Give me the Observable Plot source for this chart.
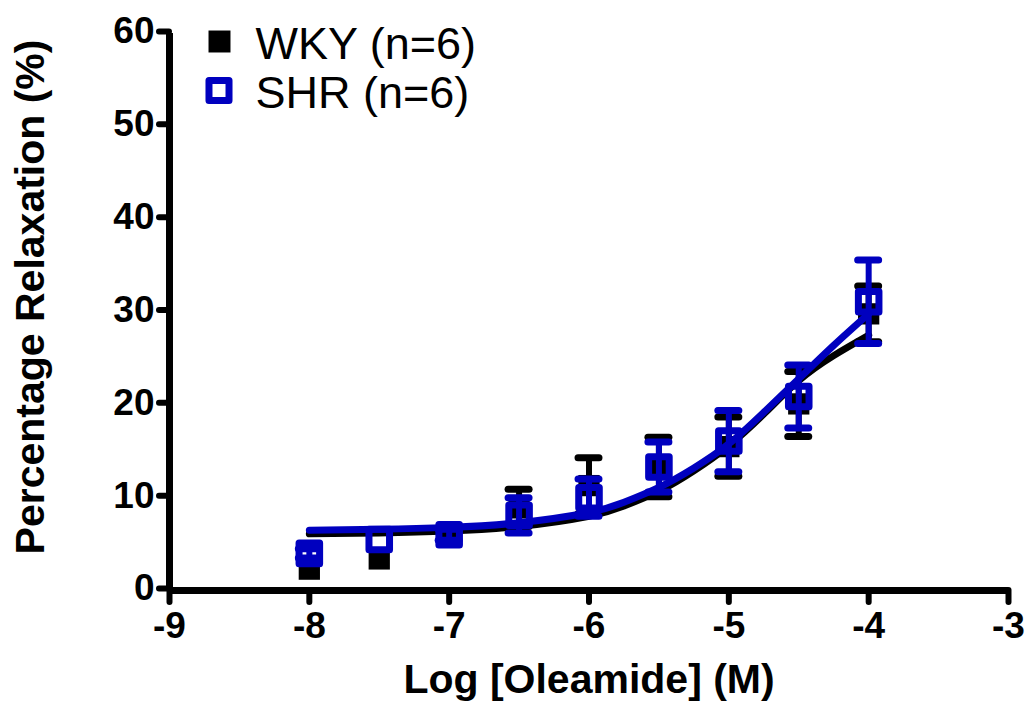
<!DOCTYPE html>
<html>
<head>
<meta charset="utf-8">
<script src="https://cdn.jsdelivr.net/npm/d3@7"></script>
<script src="https://cdn.jsdelivr.net/npm/@observablehq/plot@0.6"></script>
<style>
  html, body { margin: 0; padding: 0; background: #fff; }
  #chart svg { display: block; }
</style>
</head>
<body>
<div id="chart"></div>
<script>
// ---- data ----
const logConc = [-8, -7.5, -7, -6.5, -6, -5.5, -5, -4.5, -4];
const wkyMean = [2.3, 3.4, 5.8, 8.9, 11.3, 13.3, 15.5, 20.1, 29.8];
const wkySem  = [0, 0, 0, 2.0, 3.0, 3.2, 3.2, 3.5, 3.0];
const shrMean = [4.0, 5.5, 6.0, 8.1, 10.0, 13.3, 16.1, 20.9, 31.1];
const shrSem  = [0.5, 0, 0.6, 1.9, 2.0, 2.7, 3.3, 3.4, 4.5];

// fitted curves
const fitX     = [-8, -7.5, -7, -6.5, -6, -5.75, -5.5, -5.25, -5, -4.75, -4.5, -4.25, -4];
const fitShr   = [6.5, 6.6, 6.8, 7.3, 8.4, 9.5, 11.1, 13.2, 15.8, 19.2, 22.8, 26.4, 29.8];
const fitWky   = [6.1, 6.2, 6.4, 6.9, 8.0, 9.1, 10.7, 12.9, 15.6, 19.0, 22.6, 25.3, 27.5];

const xTicks = [-9, -8, -7, -6, -5, -4, -3];
const yTicks = [0, 10, 20, 30, 40, 50, 60];
const legendLabels = ["WKY (n=6)", "SHR (n=6)"];
const xTitle = "Log [Oleamide] (M)";
const yTitle = "Percentage Relaxation (%)";

// ---- tables ----
const wky = logConc.map((x, i) => ({x, y: wkyMean[i], sem: wkySem[i]}));
const shr = logConc.map((x, i) => ({x, y: shrMean[i], sem: shrSem[i]}));
const wkyFit = fitX.map((x, i) => ({x, y: fitWky[i]}));
const shrFit = fitX.map((x, i) => ({x, y: fitShr[i]}));

const BLUE = "#0000bf";
const capHalf = 0.075; // half cap width in x units (~10 px)
const errMarks = (data, color) => {
  const d2 = data.filter(d => d.sem > 0);
  return [
    Plot.ruleX(d2, {x: "x", y1: d => d.y - d.sem, y2: d => d.y + d.sem, stroke: color, strokeWidth: 6}),
    Plot.ruleY(d2, {y: d => d.y + d.sem, x1: d => d.x - capHalf, x2: d => d.x + capHalf, stroke: color, strokeWidth: 7, strokeLinecap: "round"}),
    Plot.ruleY(d2, {y: d => d.y - d.sem, x1: d => d.x - capHalf, x2: d => d.x + capHalf, stroke: color, strokeWidth: 7, strokeLinecap: "round"})
  ];
};

const font = "'Liberation Sans', Arial, Helvetica, sans-serif";

const chart = Plot.plot({
  width: 1028,
  height: 702,
  marginLeft: 169,
  marginRight: 20,
  marginTop: 33,
  marginBottom: 112,
  style: {fontFamily: font, background: "#fff", color: "#000", overflow: "visible"},
  x: {domain: [-9, -3]},
  y: {domain: [0, 60]},
  marks: [
    Plot.axisX(xTicks, {tickSize: 12, tickPadding: 9, strokeWidth: 6, strokeLinecap: "round", fontSize: 37, fontWeight: "bold", tickFormat: d => `${d}`, label: null}),
    Plot.axisY(yTicks, {tickSize: 10, tickPadding: 5, strokeWidth: 6, strokeLinecap: "round", fontSize: 37, fontWeight: "bold", tickFormat: d => `${d}`, dy: -2, label: null}),
    Plot.ruleY([0], {strokeWidth: 7}),
    Plot.ruleX([-9], {strokeWidth: 7}),
    ...errMarks(wky, "#000"),
    Plot.line(wkyFit, {x: "x", y: "y", curve: "natural", stroke: "#000", strokeWidth: 7}),
    Plot.dot(wky, {x: "x", y: "y", symbol: "square", r: 12, fill: "#000", stroke: "none"}),
    ...errMarks(shr, BLUE),
    Plot.line(shrFit, {x: "x", y: "y", curve: "natural", stroke: BLUE, strokeWidth: 7}),
    Plot.dot(shr, {x: "x", y: "y", symbol: "square", r: 11.6, fill: "none", stroke: BLUE, strokeWidth: 7, strokeLinejoin: "round"}),
    // legend
    Plot.dot([legendLabels[0]], {frameAnchor: "top-left", dx: 50, dy: 8, symbol: "square", r: 12.4, fill: "#000", stroke: "none"}),
    Plot.dot([legendLabels[1]], {frameAnchor: "top-left", dx: 49.5, dy: 57, symbol: "square", r: 11.3, fill: "none", stroke: BLUE, strokeWidth: 7, strokeLinejoin: "round"}),
    Plot.text([legendLabels[0]], {text: d => d, frameAnchor: "top-left", dx: 86, dy: 25, textAnchor: "start", lineAnchor: "bottom", fontSize: 45, fill: "#000"}),
    Plot.text([legendLabels[1]], {text: d => d, frameAnchor: "top-left", dx: 86, dy: 74, textAnchor: "start", lineAnchor: "bottom", fontSize: 45, fill: "#000"}),
    // axis titles
    Plot.text([xTitle], {text: d => d, frameAnchor: "bottom", dy: 102, textAnchor: "middle", lineAnchor: "bottom", fontSize: 41, fontWeight: "bold", fill: "#000"}),
    Plot.text([yTitle], {text: d => d, frameAnchor: "left", dx: -126, dy: -15, rotate: -90, textAnchor: "middle", lineAnchor: "bottom", fontSize: 41, fontWeight: "bold", fill: "#000"})
  ]
});
document.getElementById("chart").appendChild(chart);
</script>
</body>
</html>
